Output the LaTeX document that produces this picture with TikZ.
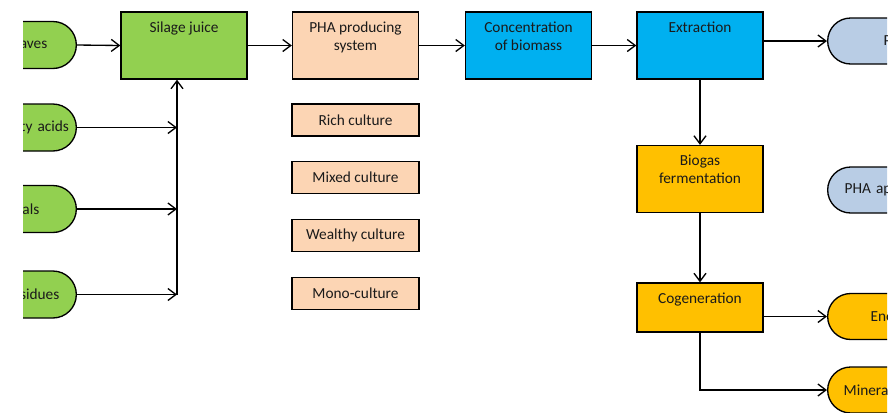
\documentclass[tikz,border=0pt]{standalone}
\usepackage{fontspec}
\setmainfont{Carlito}
\usetikzlibrary{arrows.meta}
\definecolor{cgreen}{HTML}{92D050}
\definecolor{cpeach}{HTML}{FCD5B4}
\definecolor{cblue}{HTML}{00B0F0}
\definecolor{corange}{HTML}{FFC000}
\definecolor{clblue}{HTML}{B9CDE5}
\definecolor{txt}{HTML}{1A1A1A}
\begin{document}
\begin{tikzpicture}[x=0.75pt,y=-0.75pt,
  font=\fontsize{11.5pt}{13.5pt}\selectfont, text=txt,
  box/.style={draw=black, line width=1pt, minimum width=94.5pt, minimum height=50.25pt, inner sep=0pt},
  boxtext/.style={anchor=north, align=center, inner sep=0pt},
  cult/.style={draw=black, fill=cpeach, line width=1pt, minimum width=95.25pt, minimum height=24pt, inner sep=0pt},
  lterm/.style={draw=black, fill=cgreen, line width=1pt, rounded corners=17.6pt, minimum height=35.25pt, text width=100pt, align=right, anchor=east, inner ysep=0pt},
  rterm/.style={draw=black, line width=1pt, rounded corners=17.25pt, minimum height=34.5pt, text width=100pt, align=left, anchor=west, inner ysep=0pt},
  arr/.style={-{Straight Barb[length=6pt,width=9pt]}, line width=1pt, draw=black}]
\useasboundingbox (0,0) rectangle (894,412);
\clip (23,0) rectangle (887,412);

% left inputs
\node[lterm, inner xsep=21.75pt] (l1) at (77,45) {aves};
\node[lterm, inner xsep=5.5pt] (l2) at (77,127.5) {ty acids};
\node[lterm, inner xsep=27.75pt] (l3) at (77,209) {als};
\node[lterm, inner xsep=12.75pt] (l4) at (77,294.5) {sidues};

% main boxes
\node[box, fill=cgreen] (silage) at (184,45.5) {};
\node[boxtext] at ([yshift=-7.5pt]silage.north) {Silage juice};
\node[box, fill=cpeach] (pha) at (355.5,45.5) {};
\node[boxtext] at ([yshift=-7.5pt]pha.north) {PHA producing\\system};
\node[box, fill=cblue] (conc) at (528.5,45.5) {};
\node[boxtext] at ([yshift=-7.5pt]conc.north) {Concentration\\of biomass};
\node[box, fill=cblue] (extr) at (700,45.5) {};
\node[boxtext] at ([yshift=-7.5pt]extr.north) {Extraction};
\node[box, fill=corange] (bio) at (700,179) {};
\node[boxtext] at ([yshift=-7.5pt]bio.north) {Biogas\\fermentation};
\node[box, fill=corange, minimum height=36.75pt] (cogen) at (700,307.5) {};
\node[boxtext] at ([yshift=-7.5pt]cogen.north) {Cogeneration};

% cultures
\node[cult] (c1) at (355.5,120) {Rich culture};
\node[cult] (c2) at (355.5,177.5) {Mixed culture};
\node[cult] (c3) at (355.5,235.5) {Wealthy culture};
\node[cult] (c4) at (355.5,293.5) {Mono-culture};

% right outputs
\node[rterm, fill=clblue, inner xsep=42pt] (r1) at (827,41) {P};
\node[rterm, fill=clblue, inner xsep=12.75pt] (r2) at (827,190) {PHA ap};
\node[rterm, fill=corange, inner xsep=32.25pt] (r3) at (827,316.5) {Ene};
\node[rterm, fill=corange, inner xsep=12pt] (r4) at (827,390) {Minera};

% connectors
\coordinate (jb) at (177,294.5);
\draw[arr] (l1.east) -- (silage.west);
\draw[arr] (l2.east) -- (l2.east -| jb);
\draw[arr] (l3.east) -- (l3.east -| jb);
\draw[arr] (l4.east) -- (jb);
\draw[arr] (jb) -- (jb |- silage.south);
\draw[arr] (silage.east) -- (pha.west);
\draw[arr] (pha.east) -- (conc.west);
\draw[arr] (conc.east) -- (extr.west);
\draw[arr] (extr.east |- r1.west) -- (r1.west);
\draw[arr] (extr.south) -- (bio.north);
\draw[arr] (bio.south) -- (cogen.north);
\draw[arr] (cogen.east |- r3.west) -- (r3.west);
\draw[arr] (cogen.south) |- (r4.west);
\end{tikzpicture}
\end{document}
